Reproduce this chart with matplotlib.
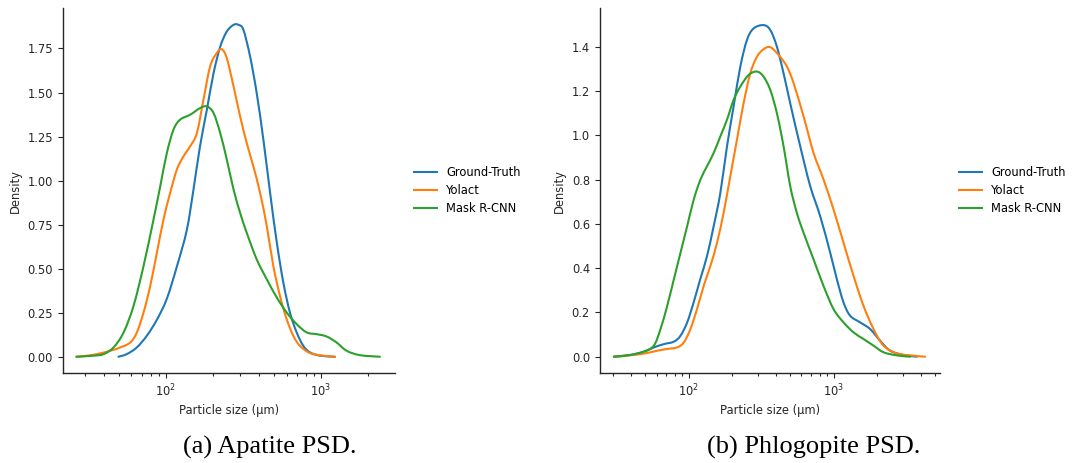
"""Particle size distributions: ground truth vs. Yolact vs. Mask R-CNN"""
import matplotlib
matplotlib.use("Agg")
import matplotlib.pyplot as plt
from matplotlib.path import Path
from matplotlib.patches import PathPatch
from matplotlib.lines import Line2D
from matplotlib.ticker import LogLocator
import numpy as np

# Apatite KDE curves (size in um, density)
apatite_gt_size = [49.5, 56, 65, 75.5, 87.5, 101.5, 118, 136.5, 150.7, 166, 183.6, 203,
                   224, 247, 273, 294, 316, 349, 385, 425, 470, 519, 572, 631, 697,
                   769, 849, 986, 1231]
apatite_gt_density = [0.0, 0.015, 0.053, 0.12, 0.21, 0.33, 0.515, 0.72, 0.95, 1.195, 1.40,
                      1.61, 1.76, 1.846, 1.884, 1.884, 1.856, 1.705, 1.497, 1.233, 0.93,
                      0.648, 0.42, 0.25, 0.138, 0.062, 0.025, 0.006, 0.0]

apatite_yolact_size = [26.5, 31, 36, 43.8, 50.9, 59, 65, 71.8, 79.3, 87.5, 96.6, 106.6,
                       117.8, 130, 143.5, 158.5, 174.8, 192.9, 213, 229, 247, 273, 301,
                       332, 366, 405, 447, 493, 544, 601, 663, 732, 849, 1035, 1231]
apatite_yolact_density = [0.0, 0.006, 0.015, 0.034, 0.053, 0.081, 0.138, 0.251, 0.402,
                          0.59, 0.78, 0.93, 1.063, 1.138, 1.195, 1.27, 1.46, 1.648, 1.724,
                          1.746, 1.695, 1.535, 1.365, 1.214, 1.082, 0.93, 0.742, 0.515,
                          0.345, 0.213, 0.119, 0.062, 0.021, 0.006, 0.0]

apatite_mrcnn_size = [26.5, 34.2, 39.7, 46, 53.4, 61.9, 71.8, 83.3, 92, 101.5, 112, 123.6,
                      143.5, 166.4, 183.6, 202.8, 224, 247, 273, 301, 332, 385, 447, 519,
                      601, 697, 809, 938, 1087, 1260, 1462, 1782, 2398]
apatite_mrcnn_density = [0.0, 0.006, 0.015, 0.053, 0.138, 0.289, 0.515, 0.78, 0.968, 1.157,
                         1.289, 1.346, 1.374, 1.412, 1.421, 1.384, 1.27, 1.12, 0.95, 0.817,
                         0.704, 0.553, 0.44, 0.336, 0.251, 0.185, 0.138, 0.128, 0.115,
                         0.081, 0.034, 0.009, 0.0]

# Phlogopite KDE curves
phlog_gt_size = [30.4, 39.6, 49, 57.4, 67.3, 78.9, 87.7, 97.5, 108, 120, 133.7, 148.6,
                 165.2, 183.6, 204, 227, 252.4, 280.5, 328.6, 365.5, 406, 451.6, 501.7,
                 588.6, 690, 808.6, 948, 1054, 1172, 1303, 1527, 1790, 2099, 2461, 3041,
                 3758]
phlog_gt_density = [0.0, 0.008, 0.023, 0.042, 0.057, 0.068, 0.095, 0.155, 0.245, 0.35,
                    0.455, 0.59, 0.74, 0.95, 1.131, 1.311, 1.432, 1.484, 1.499, 1.477,
                    1.402, 1.281, 1.146, 0.951, 0.771, 0.635, 0.47, 0.35, 0.245, 0.185,
                    0.155, 0.125, 0.072, 0.027, 0.008, 0.0]

phlog_yolact_size = [30.4, 41.8, 51.6, 60.5, 71, 83.2, 92.5, 102.7, 114, 126.8, 141, 156.7,
                     174, 193.6, 215.2, 239.2, 266, 295.7, 328.6, 365.5, 417.5, 476.8,
                     529.9, 620.7, 727.8, 852.6, 1000, 1172, 1374, 1610, 1888, 2213, 2735,
                     3381, 4285]
phlog_yolact_density = [0.0, 0.008, 0.017, 0.027, 0.035, 0.042, 0.065, 0.125, 0.215, 0.32,
                        0.41, 0.515, 0.65, 0.816, 0.981, 1.146, 1.281, 1.356, 1.39, 1.399,
                        1.364, 1.311, 1.236, 1.086, 0.921, 0.801, 0.665, 0.515, 0.365,
                        0.23, 0.125, 0.05, 0.015, 0.006, 0.0]

phlog_mrcnn_size = [30.4, 39.6, 49, 57.4, 63.8, 71, 78.9, 87.7, 97.5, 108.2, 120.3, 133.7,
                    148.6, 165.2, 183.6, 204, 227, 259.5, 295.7, 328.6, 365.5, 406, 451.6,
                    502, 558, 620.7, 727.8, 852.6, 1000, 1172, 1374, 1610, 1888, 2213,
                    2735, 3381]
phlog_mrcnn_density = [0.0, 0.008, 0.023, 0.05, 0.125, 0.23, 0.35, 0.47, 0.59, 0.71, 0.80,
                       0.861, 0.921, 0.996, 1.071, 1.161, 1.221, 1.274, 1.289, 1.266, 1.206,
                       1.101, 0.951, 0.771, 0.65, 0.56, 0.44, 0.32, 0.215, 0.155, 0.11,
                       0.08, 0.05, 0.02, 0.006, 0.0]

labels = ["Ground-Truth", "Yolact", "Mask R-CNN"]
colors = ["#1f77b4", "#ff7f0e", "#2ca02c"]
captions = ["(a) Apatite PSD.", "(b) Phlogopite PSD."]

W, H = 1079, 463
fs = 8.3
dark = "#262626"

fig = plt.figure(figsize=(W / 100, H / 100), dpi=100, facecolor="w")


def px_axes(x0, x1, y0, y1):
    return fig.add_axes([x0 / W, 1 - y1 / H, (x1 - x0) / W, (y1 - y0) / H])


def smooth_curve(ax, x, y, **kw):
    # Catmull-Rom through the points (in log-x space), drawn as cubic Beziers
    lx = np.log10(np.asarray(x, float))
    y = np.asarray(y, float)
    pts = np.column_stack([lx, y])
    verts = [pts[0]]
    codes = [Path.MOVETO]
    n = len(pts)
    for i in range(n - 1):
        p0 = pts[max(i - 1, 0)]
        p1, p2 = pts[i], pts[i + 1]
        p3 = pts[min(i + 2, n - 1)]
        c1 = p1 + (p2 - p0) / 6
        c2 = p2 - (p3 - p1) / 6
        verts += [c1, c2, p2]
        codes += [Path.CURVE4] * 3
    verts = np.array(verts)
    verts[:, 0] = 10 ** verts[:, 0]
    patch = PathPatch(Path(verts, codes), facecolor="none", edgecolor=kw["color"],
                      lw=kw["lw"], capstyle="round", joinstyle="round")
    ax.add_patch(patch)


ax0 = px_axes(62.7, 395, 8.3, 373.3)
ax1 = px_axes(599.7, 940, 8.3, 373.3)

panels = [
    (ax0, [(apatite_gt_size, apatite_gt_density),
           (apatite_yolact_size, apatite_yolact_density),
           (apatite_mrcnn_size, apatite_mrcnn_density)],
     (10 ** 1.335, 10 ** 3.477), (-0.094, 1.978), [0, 0.25, 0.5, 0.75, 1.0, 1.25, 1.5, 1.75],
     "{:.2f}"),
    (ax1, [(phlog_gt_size, phlog_gt_density),
           (phlog_yolact_size, phlog_yolact_density),
           (phlog_mrcnn_size, phlog_mrcnn_density)],
     (10 ** 1.385, 10 ** 3.735), (-0.075, 1.575), [0, 0.2, 0.4, 0.6, 0.8, 1.0, 1.2, 1.4],
     "{:.1f}"),
]

for ax, curves, xlim, ylim, yticks, fmt in panels:
    ax.set_xscale("log")
    for (x, y), c in zip(curves, colors):
        smooth_curve(ax, x, y, color=c, lw=1.5)
    ax.set_xlim(*xlim)
    ax.set_ylim(*ylim)
    ax.xaxis.set_major_locator(LogLocator(base=10))
    ax.xaxis.set_minor_locator(LogLocator(base=10, subs=np.arange(2, 10)))
    ax.set_yticks(yticks)
    ax.set_yticklabels([fmt.format(v) for v in yticks])
    for s in ["top", "right"]:
        ax.spines[s].set_visible(False)
    for s in ["left", "bottom"]:
        ax.spines[s].set_color(dark)
        ax.spines[s].set_linewidth(1.0)
    ax.tick_params(labelsize=fs, colors=dark, length=3.5)
    ax.tick_params(which="minor", colors=dark, length=2, width=0.8)
    ax.set_xlabel("Particle size (µm)", fontsize=fs, color=dark, labelpad=3)
    ax.set_ylabel("Density", fontsize=fs, color=dark)
    handles = [Line2D([], [], color=c, lw=1.5) for c in colors]
    ax.legend(handles, labels, loc="center left", bbox_to_anchor=(1.025, 0.5),
              frameon=False, fontsize=fs, handlelength=2.0, labelspacing=0.45)

fig.text(270 / W, 1 - 447 / H, captions[0], ha="center", va="center",
         family="Liberation Serif", fontsize=19)
fig.text(814 / W, 1 - 447 / H, captions[1], ha="center", va="center",
         family="Liberation Serif", fontsize=19)

plt.savefig("out.png", dpi=100, facecolor="w")
